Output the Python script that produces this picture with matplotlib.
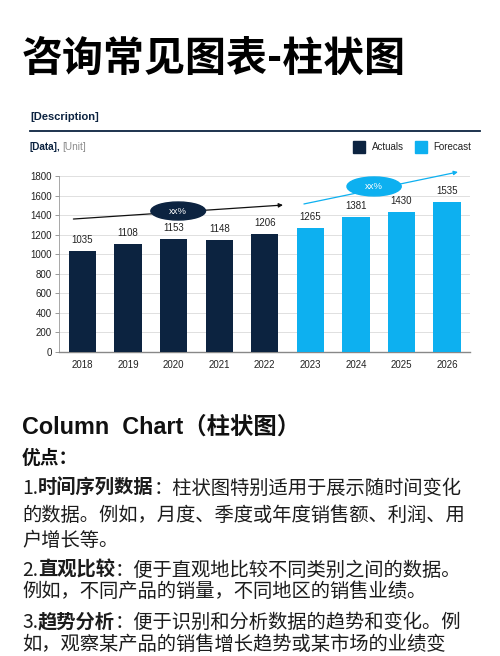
import matplotlib
matplotlib.use('Agg')
import matplotlib.pyplot as plt
from matplotlib.patches import Ellipse, Rectangle
from matplotlib.lines import Line2D

plt.rcParams['font.family'] = ['Liberation Sans', 'Noto Sans CJK SC', 'DejaVu Sans']

# Data
years = ['2018', '2019', '2020', '2021', '2022', '2023', '2024', '2025', '2026']
values = [1035, 1108, 1153, 1148, 1206, 1265, 1381, 1430, 1535]
is_forecast = [False] * 5 + [True] * 4
yticks = [0, 200, 400, 600, 800, 1000, 1200, 1400, 1600, 1800]

NAVY = '#0c2340'
BLUE = '#0db0f0'
CJK = ['Noto Sans CJK SC', 'DejaVu Sans']

W, H = 500, 656
fig = plt.figure(figsize=(W / 100, H / 100), dpi=100)
fig.patch.set_facecolor('white')


def fx(px):
    return px / W


def fy(py):
    return 1 - py / H


# Title
fig.text(fx(22), fy(59), '咨询常见图表-柱状图', fontsize=29.5, fontweight='bold',
         family=CJK, va='center', ha='left', color='black')

# Chart header
fig.text(fx(30), fy(117), '[Description]', fontsize=8, fontweight='bold',
         color=NAVY, va='center')
fig.add_artist(Line2D([fx(30), fx(480)], [fy(131), fy(131)], color=NAVY, lw=1.3))
fig.text(fx(30), fy(147), '[Data],', fontsize=7.2, fontweight='bold',
         color=NAVY, va='center')
fig.text(fx(62), fy(147), '[Unit]', fontsize=7.2, color='#8c8c8c', va='center')

# Legend
fig.add_artist(Rectangle((fx(353), fy(153)), fx(12), 12 / H, color=NAVY,
                         transform=fig.transFigure))
fig.text(fx(372), fy(147), 'Actuals', fontsize=7, va='center', color='#222222')
fig.add_artist(Rectangle((fx(415), fy(153)), fx(12), 12 / H, color=BLUE,
                         transform=fig.transFigure))
fig.text(fx(433), fy(147), 'Forecast', fontsize=7, va='center', color='#222222')

# Bar chart
ax = fig.add_axes([fx(59), fy(352), fx(411), 176 / H])
x = list(range(len(years)))
colors = [BLUE if f else NAVY for f in is_forecast]
ax.bar(x, values, width=0.6, color=colors, zorder=3)
for xi, v in zip(x, values):
    ax.text(xi, v + 60, str(v), ha='center', va='bottom', fontsize=7,
            color='#222222', zorder=4)

ax.set_xlim(-0.516, 8.505)
ax.set_ylim(0, 1800)
ax.set_yticks(yticks)
ax.set_xticks(x)
ax.set_xticklabels(years)
ax.tick_params(axis='y', labelsize=7, length=3, width=0.6, color='#888888',
               labelcolor='#222222', pad=2)
ax.tick_params(axis='x', labelsize=7, length=0, labelcolor='#222222', pad=6)
ax.grid(axis='y', color='#e0e0e0', lw=0.7, zorder=0)
for s in ['top', 'right']:
    ax.spines[s].set_visible(False)
ax.spines['left'].set_color('#999999')
ax.spines['left'].set_linewidth(0.6)
ax.spines['bottom'].set_color('#888888')
ax.spines['bottom'].set_linewidth(1.0)

# Growth arrows
ax.annotate('', xy=(4.4, 1503), xytext=(-0.2, 1360),
            arrowprops=dict(arrowstyle='-|>', color='#111111', lw=0.9,
                            mutation_scale=6, shrinkA=0, shrinkB=0),
            zorder=5, annotation_clip=False)
ax.add_patch(Ellipse((2.1, 1442), 1.2, 184, color=NAVY, zorder=6, clip_on=False))
ax.text(2.1, 1442, 'xx%', color='white', fontsize=6.8, ha='center',
        va='center', zorder=7)

ax.annotate('', xy=(8.24, 1841), xytext=(4.86, 1514),
            arrowprops=dict(arrowstyle='-|>', color=BLUE, lw=0.9,
                            mutation_scale=6, shrinkA=0, shrinkB=0),
            zorder=5, annotation_clip=False)
ax.add_patch(Ellipse((6.4, 1693), 1.19, 194, color=BLUE, zorder=6, clip_on=False))
ax.text(6.4, 1693, 'xx%', color='white', fontsize=6.8, ha='center',
        va='center', zorder=7)

# Text below chart
fig.text(fx(22), fy(427), 'Column  Chart（柱状图）', fontsize=16.8, fontweight='bold',
         family=['Liberation Sans', 'Noto Sans CJK SC'], va='center', color='#111111')
fig.text(fx(22), fy(458), '优点：', fontsize=13.5, fontweight='bold',
         family=CJK, va='center', color='#111111')

renderer = fig.canvas.get_renderer()


def draw_line(py, pieces, size=13.9):
    xpos = fx(22)
    for txt, weight in pieces:
        tt = fig.text(xpos, fy(py), txt, fontsize=size, fontweight=weight,
                      family=CJK, va='center', ha='left', color='#1c1c1c')
        bb = tt.get_window_extent(renderer=renderer)
        xpos += bb.width / fig.bbox.width


lines = [
    (488, [('1.', 'normal'), ('时间序列数据', 'bold'), ('：柱状图特别适用于展示随时间变化', 'normal')]),
    (515, [('的数据。例如，月度、季度或年度销售额、利润、用', 'normal')]),
    (540, [('户增长等。', 'normal')]),
    (570, [('2.', 'normal'), ('直观比较', 'bold'), ('：便于直观地比较不同类别之间的数据。', 'normal')]),
    (591, [('例如，不同产品的销量，不同地区的销售业绩。', 'normal')]),
    (622, [('3.', 'normal'), ('趋势分析', 'bold'), ('：便于识别和分析数据的趋势和变化。例', 'normal')]),
    (644, [('如，观察某产品的销售增长趋势或某市场的业绩变', 'normal')]),
]
for py, pieces in lines:
    draw_line(py, pieces)

fig.savefig('out.png', dpi=100, facecolor='white')
